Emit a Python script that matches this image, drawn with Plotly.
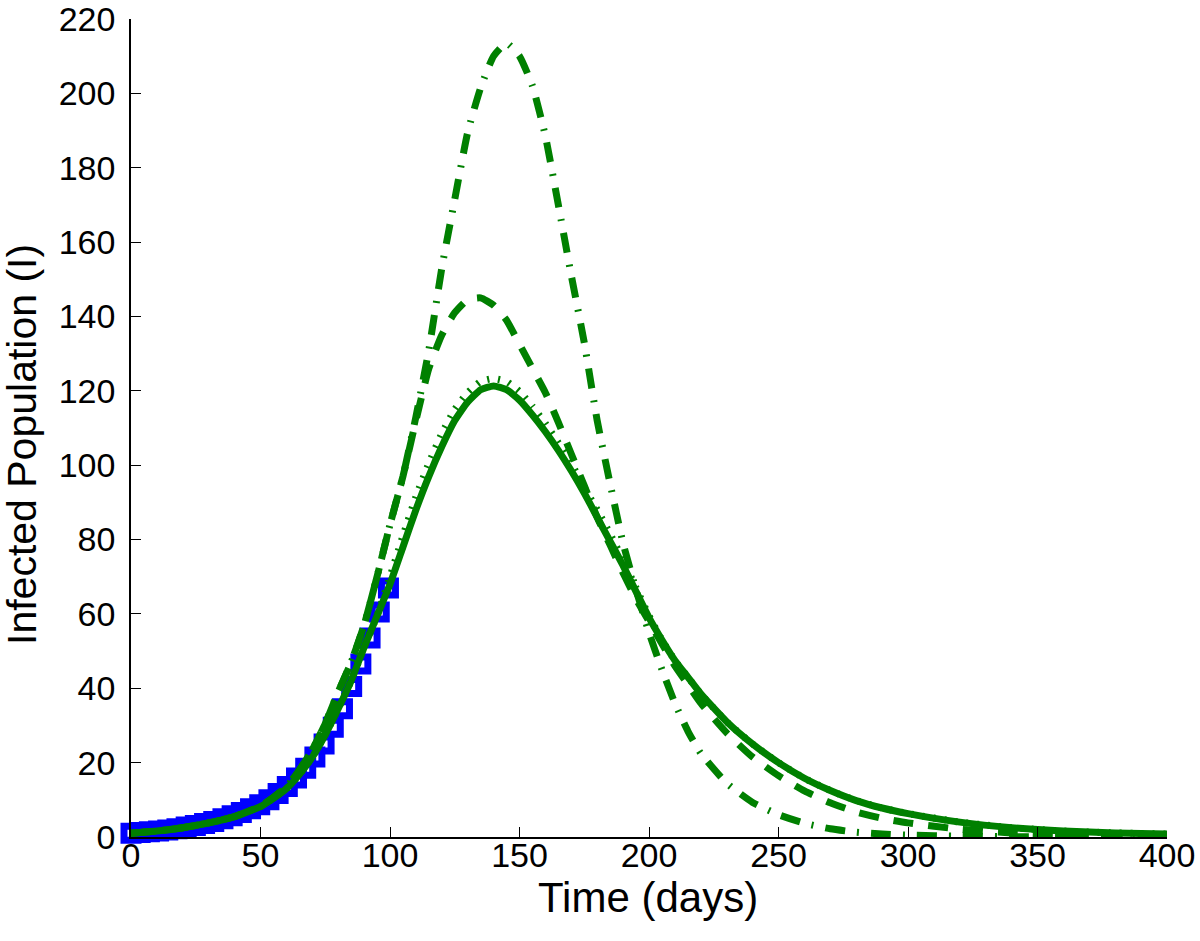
import plotly.graph_objects as go

# ---- data ----
data_days = [0, 3.55, 7.1, 10.65, 14.2, 17.75, 21.3, 24.85, 28.4, 31.95, 35.5, 39.05, 42.6,
             46.15, 49.7, 53.25, 56.8, 60.35, 63.9, 67.45, 71.0, 74.55, 78.1, 81.65, 85.2,
             88.75, 92.3, 95.85, 99.4]
data_infected = [1.0, 1.2, 1.4, 1.6, 1.9, 2.2, 2.7, 3.1, 3.6, 4.2, 4.9, 5.7, 6.6,
                 7.6, 8.7, 10.0, 11.7, 13.6, 15.9, 18.5, 21.5, 25.0, 29.5, 34.5, 40.5,
                 46.5, 53.5, 60.5, 67.0]

model_days = [0, 10, 20, 30, 40, 50, 55, 60, 65, 70, 75, 80, 85, 90, 95, 100, 105, 110, 115, 120,
              125, 130, 135, 140, 145, 150, 155, 160, 165, 170, 175, 180, 185, 190, 195, 200,
              205, 210, 215, 220, 230, 240, 250, 260, 270, 280, 290, 300, 320, 340, 360, 380, 400]

fit_solid = [1.0, 1.6, 2.5, 3.8, 5.5, 8.2, 10.4, 13.0, 16.8, 21.5, 27.5, 34.5, 42.0, 51.0, 59.5,
             68.0, 78.0, 88.0, 97.0, 105.0, 112.0, 117.0, 120.3, 121.3, 120.3, 117.5, 113.5,
             109.0, 104.0, 98.5, 92.5, 86.0, 79.5, 73.0, 66.0, 59.0,
             53.0, 47.5, 43.0, 38.5, 31.0, 25.0, 20.0, 15.8, 12.5, 9.8, 7.8, 6.3, 4.0, 2.5,
             1.6, 1.1, 0.8]

scen_dotted = [1.0, 1.6, 2.5, 3.8, 5.5, 8.2, 10.4, 13.0, 16.8, 21.5, 27.5, 34.5, 42.0, 51.0, 59.5,
               70.0, 81.0, 91.5, 100.5, 108.5, 115.0, 119.5, 122.5, 123.3, 122.5, 119.8, 115.8,
               111.2, 106.0, 100.5, 94.0, 88.0, 81.5, 74.5, 67.0, 59.5,
               53.0, 47.5, 43.0, 38.5, 31.0, 25.0, 20.0, 15.8, 12.5, 9.8, 7.8, 6.3, 4.0, 2.5,
               1.6, 1.1, 0.8]

scen_dashed = [1.0, 1.6, 2.5, 3.8, 5.5, 8.3, 10.7, 13.5, 18.0, 23.5, 30.5, 39.0, 47.0, 57.0, 70.0,
               84.0, 97.0, 112.0, 126.0, 135.0, 141.0, 144.5, 145.0, 143.0, 139.0, 132.5, 126.0,
               119.5, 111.5, 103.0, 94.5, 86.0, 78.5, 71.0, 64.0, 58.0,
               52.0, 46.0, 41.0, 36.0, 28.0, 21.5, 16.5, 12.4, 9.2, 6.7, 5.0, 3.8, 2.1, 1.1,
               0.6, 0.3, 0.2]

scen_dashdot = [1.0, 1.6, 2.5, 3.8, 5.5, 8.3, 10.7, 13.5, 18.0, 23.5, 30.5, 39.0, 47.0, 57.0, 70.0,
                84.0, 97.0, 113.0, 131.0, 153.0, 171.5, 189.5, 201.5, 210.0, 213.5, 210.0, 202.0,
                188.5, 170.0, 151.0, 133.0, 112.0, 95.0, 79.0, 66.5, 55.0,
                45.0, 36.0, 28.5, 22.5, 14.5, 9.3, 6.0, 3.7, 2.2, 1.3, 0.8, 0.5, 0.25, 0.1,
                0.05, 0.02, 0.01]

x_ticks = [0, 50, 100, 150, 200, 250, 300, 350, 400]
y_ticks = [0, 20, 40, 60, 80, 100, 120, 140, 160, 180, 200, 220]

GREEN = "#008000"
BLUE = "#0000FF"
FONT = "Liberation Sans, Arial, Helvetica, sans-serif"

ML, MR, MT, MB = 131, 33, 19, 104
PW = 1200 - ML - MR
PH = 941 - MT - MB

fig = go.Figure()

fig.add_trace(go.Scatter(
    x=data_days, y=data_infected, mode="markers",
    marker=dict(symbol="square-open", size=14, color=BLUE, line=dict(width=7, color=BLUE)),
    showlegend=False, cliponaxis=False))

LINE_SHAPE = dict(shape="spline", smoothing=0.5)

fig.add_trace(go.Scatter(
    x=model_days, y=fit_solid, mode="lines",
    line=dict(color=GREEN, width=7, **LINE_SHAPE),
    showlegend=False))

fig.add_trace(go.Scatter(
    x=model_days, y=scen_dotted, mode="lines",
    line=dict(color=GREEN, width=7, dash="2px,9px", **LINE_SHAPE),
    showlegend=False))

fig.add_trace(go.Scatter(
    x=model_days, y=scen_dashed, mode="lines",
    line=dict(color=GREEN, width=7, dash="20px,15px", **LINE_SHAPE),
    showlegend=False))

fig.add_trace(go.Scatter(
    x=model_days, y=scen_dashdot, mode="lines",
    line=dict(color=GREEN, width=7, dash="20px,12px,2px,12px", **LINE_SHAPE),
    showlegend=False))

fig.add_annotation(
    text="Time (days)", xref="paper", yref="paper",
    x=(648 - ML) / PW, y=-(898 - (941 - MB)) / PH,
    xanchor="center", yanchor="middle", showarrow=False,
    font=dict(size=42, family=FONT, color="black"))

fig.add_annotation(
    text="Infected Population (I)", xref="paper", yref="paper",
    x=-(ML - 22) / PW, y=((941 - MB) - 445) / PH, textangle=-90,
    xanchor="center", yanchor="middle", showarrow=False,
    font=dict(size=41, family=FONT, color="black"))

fig.update_layout(
    width=1200, height=941,
    margin=dict(l=ML, r=MR, t=MT, b=MB),
    paper_bgcolor="white", plot_bgcolor="white",
    font=dict(family=FONT, color="black", size=34),
    xaxis=dict(
        range=[0, 400], tickvals=x_ticks, ticktext=[str(v) for v in x_ticks],
        ticks="inside", ticklen=10, tickwidth=1.3, tickcolor="black",
        showline=True, linecolor="black", linewidth=1.5, mirror=False,
        showgrid=False, zeroline=False, automargin=False, ticklabeloverflow="allow",
        ticklabelstandoff=-13,
        tickfont=dict(size=34, family=FONT),
    ),
    yaxis=dict(
        range=[0, 220], tickvals=y_ticks, ticktext=[str(v) for v in y_ticks],
        ticks="inside", ticklen=10, tickwidth=1.3, tickcolor="black",
        showline=True, linecolor="black", linewidth=1.5, mirror=False,
        showgrid=False, zeroline=False, automargin=False, ticklabeloverflow="allow",
        ticklabelstandoff=7,
        tickfont=dict(size=34, family=FONT),
    ),
)

fig.write_html("out.html", config={"displayModeBar": False},
               post_script="document.body.style.margin='0';")
